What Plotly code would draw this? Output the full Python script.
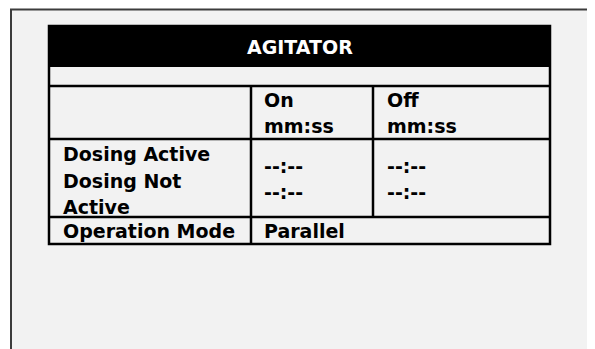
import plotly.graph_objects as go

# ---- data (text content of the panel) ----
title = "AGITATOR"
col_header_on = ["On", "mm:ss"]
col_header_off = ["Off", "mm:ss"]
row_labels_dosing = ["Dosing Active", "Dosing Not", "Active"]
row_label_mode = "Operation Mode"
on_values = ["--:--", "--:--"]
off_values = ["--:--", "--:--"]
mode_value = "Parallel"

W, H = 595, 349
OFF = 8  # default page body margin
FONT = "DejaVu Sans"
FS = 19

fig = go.Figure()
fig.add_trace(go.Scatter(x=[OFF, W], y=[OFF, H], mode="markers",
                         marker=dict(opacity=0), hoverinfo="skip", showlegend=False))

shapes = []
# outer panel
shapes.append(dict(type="rect", x0=11, y0=9.5, x1=590.5, y1=H + 10,
                   fillcolor="#f2f2f2", line=dict(color="#3c3c3c", width=2), layer="below"))
# header black bar
shapes.append(dict(type="rect", x0=49, y0=26, x1=550, y1=66,
                   fillcolor="black", line=dict(color="black", width=2)))
# table outer border
shapes.append(dict(type="rect", x0=49, y0=26, x1=550, y1=244,
                   line=dict(color="black", width=2.5)))
# horizontal lines
for yy in [86, 139, 217]:
    shapes.append(dict(type="line", x0=49, x1=550, y0=yy, y1=yy,
                       line=dict(color="black", width=2.5)))
# vertical dividers
shapes.append(dict(type="line", x0=251, x1=251, y0=86, y1=244,
                   line=dict(color="black", width=2.5)))
shapes.append(dict(type="line", x0=373, x1=373, y0=86, y1=217,
                   line=dict(color="black", width=2.5)))

ann = []
def txt(x, y, s, color="black", xanchor="left"):
    ann.append(dict(x=x, y=y, xref="x", yref="y", text="<b>%s</b>" % s,
                    showarrow=False, xanchor=xanchor, yanchor="middle",
                    font=dict(family=FONT, size=FS, color=color)))

txt(299.5, 46.5, title, color="white", xanchor="center")
for i, s in enumerate(col_header_on):
    txt(262, 99.5 + i * 26.5, s)
for i, s in enumerate(col_header_off):
    txt(385, 99.5 + i * 26.5, s)
for i, s in enumerate(row_labels_dosing):
    txt(61, 154 + i * 26.5, s)
txt(61, 230.5, row_label_mode)
for i, s in enumerate(on_values):
    txt(262, 165.5 + i * 26.5, s)
for i, s in enumerate(off_values):
    txt(385, 165.5 + i * 26.5, s)
txt(262, 230.5, mode_value)

fig.update_layout(
    width=W - OFF, height=H - OFF, margin=dict(l=0, r=0, t=0, b=0),
    paper_bgcolor="white", plot_bgcolor="white",
    xaxis=dict(range=[OFF, W], visible=False, fixedrange=True),
    yaxis=dict(range=[H, OFF], visible=False, fixedrange=True),
    shapes=shapes, annotations=ann, showlegend=False,
)
fig.write_html("out.html", config={"displayModeBar": False})
